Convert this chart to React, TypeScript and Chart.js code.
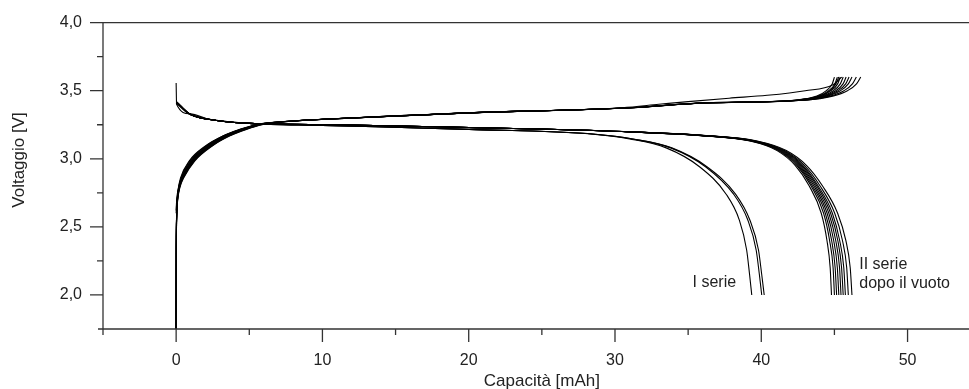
import React, { useEffect, useRef } from 'react';
import { Chart, registerables } from 'chart.js';

Chart.register(...registerables);

const FONT = '"Liberation Sans", Arial, Helvetica, sans-serif';
const INK = '#222';

// Axis ranges
const X_MIN = -5;
const X_MAX = 54.2;
const Y_MIN = 1.75;
const Y_MAX = 4.0;

// Tick positions
const xMajorTicks = [0, 10, 20, 30, 40, 50];
const xMinorTicks = [-5, 5, 15, 25, 35, 45];
const yMajorTicks = [2.0, 2.5, 3.0, 3.5, 4.0];
const yMinorTicks = [2.25, 2.75, 3.25, 3.75];

// ---- Discharge, II serie (after vacuum): shared voltage nodes [V], capacity per cycle [mAh]
const dischargeVoltsII = [3.42, 3.33, 3.29, 3.26, 3.25, 3.23, 3.2, 3.17, 3.13, 3.06, 2.95, 2.8, 2.6, 2.4, 2.2, 2.0];
const dischargeII_1 = [0, 0.9, 2.2, 5.0, 10.99, 19.98, 30.43, 35.88, 39.23, 41.08, 42.33, 43.28, 44.1, 44.49, 44.71, 44.8];
const dischargeII_2 = [0, 0.9, 2.2, 5.0, 10.99, 19.99, 30.46, 35.93, 39.3, 41.17, 42.44, 43.41, 44.26, 44.67, 44.91, 45.0];
const dischargeII_3 = [0, 0.9, 2.2, 5.0, 11.0, 19.99, 30.48, 35.96, 39.35, 41.23, 42.52, 43.5, 44.38, 44.81, 45.05, 45.15];
const dischargeII_4 = [0, 0.9, 2.2, 5.0, 11.0, 20.0, 30.5, 36.0, 39.4, 41.3, 42.6, 43.6, 44.5, 44.95, 45.2, 45.3];
const dischargeII_5 = [0, 0.9, 2.2, 5.0, 11.0, 20.01, 30.52, 36.04, 39.45, 41.37, 42.68, 43.7, 44.62, 45.09, 45.35, 45.45];
const dischargeII_6 = [0, 0.9, 2.2, 5.0, 11.01, 20.02, 30.55, 36.08, 39.51, 41.44, 42.77, 43.8, 44.74, 45.23, 45.49, 45.6];
const dischargeII_7 = [0, 0.9, 2.2, 5.0, 11.01, 20.02, 30.57, 36.11, 39.56, 41.5, 42.85, 43.89, 44.86, 45.36, 45.64, 45.75];
const dischargeII_8 = [0, 0.9, 2.2, 5.0, 11.01, 20.03, 30.6, 36.16, 39.63, 41.59, 42.96, 44.02, 45.02, 45.55, 45.84, 45.95];
const dischargeII_9 = [0, 0.9, 2.2, 5.0, 11.02, 20.05, 30.64, 36.23, 39.72, 41.71, 43.1, 44.19, 45.22, 45.78, 46.08, 46.2];

// ---- Discharge, I serie
const dischargeVoltsI_1 = [3.556, 3.4, 3.33, 3.29, 3.26, 3.245, 3.216, 3.18, 3.145, 3.08, 2.94, 2.74, 2.55, 2.33, 2.15, 2.0];
const dischargeI_1 = [0, 0.03, 0.95, 2.3, 5.1, 10.0, 20.0, 28.5, 31.0, 33.5, 35.8, 37.6, 38.5, 39.0, 39.2, 39.35];
const dischargeVoltsI = [3.41, 3.33, 3.29, 3.26, 3.245, 3.216, 3.18, 3.145, 3.08, 2.94, 2.74, 2.55, 2.33, 2.15, 2.0];
const dischargeI_2 = [0, 0.85, 2.15, 5.0, 10.0, 20.03, 28.64, 31.2, 33.81, 36.21, 38.11, 39.08, 39.65, 39.87, 40.03];
const dischargeI_3 = [0, 0.95, 2.25, 5.05, 10.0, 20.04, 28.67, 31.26, 33.88, 36.31, 38.24, 39.22, 39.81, 40.03, 40.2];

// ---- Charge, II serie
const chargeVoltsII = [1.75, 2.3, 2.6, 2.69, 2.79, 2.86, 2.985, 3.094, 3.167, 3.216, 3.252, 3.27, 3.29, 3.337, 3.375, 3.41, 3.43, 3.46, 3.5, 3.55, 3.6];
const chargeII_1 = [0, 0.01, 0.03, 0.06, 0.17, 0.36, 1.0, 2.1, 3.2, 4.35, 5.5, 6.9, 9.9, 19.9, 30.9, 36.0, 42.3, 43.8, 44.45, 44.85, 45.0];
const chargeII_2 = [0, 0.01, 0.035, 0.07, 0.18, 0.38, 1.05, 2.17, 3.28, 4.42, 5.57, 6.95, 9.95, 19.95, 30.95, 36.02, 42.37, 43.92, 44.61, 45.03, 45.2];
const chargeII_3 = [0, 0.01, 0.035, 0.07, 0.19, 0.4, 1.08, 2.2, 3.33, 4.47, 5.62, 6.98, 10.0, 20.0, 31.0, 36.04, 42.44, 44.04, 44.77, 45.22, 45.4];
const chargeII_4 = [0, 0.01, 0.035, 0.07, 0.2, 0.41, 1.1, 2.24, 3.38, 4.52, 5.66, 7.0, 10.0, 20.0, 31.0, 36.06, 42.51, 44.16, 44.93, 45.4, 45.6];
const chargeII_5 = [0, 0.01, 0.04, 0.08, 0.21, 0.43, 1.13, 2.28, 3.43, 4.57, 5.71, 7.05, 10.05, 20.05, 31.05, 36.08, 42.58, 44.28, 45.09, 45.59, 45.8];
const chargeII_6 = [0, 0.01, 0.04, 0.08, 0.22, 0.45, 1.16, 2.32, 3.48, 4.62, 5.76, 7.1, 10.1, 20.1, 31.1, 36.1, 42.65, 44.4, 45.25, 45.77, 46.0];
const chargeII_7 = [0, 0.01, 0.045, 0.09, 0.23, 0.47, 1.2, 2.37, 3.53, 4.68, 5.82, 7.15, 10.1, 20.1, 31.1, 36.12, 42.72, 44.52, 45.41, 45.95, 46.2];
const chargeII_8 = [0, 0.01, 0.045, 0.09, 0.24, 0.49, 1.24, 2.42, 3.59, 4.74, 5.88, 7.2, 10.15, 20.15, 31.15, 36.15, 42.83, 44.7, 45.65, 46.23, 46.5];
const chargeII_9 = [0, 0.01, 0.05, 0.1, 0.26, 0.52, 1.28, 2.47, 3.65, 4.8, 5.95, 7.25, 10.2, 20.2, 31.2, 36.18, 42.93, 44.88, 45.89, 46.51, 46.8];

// ---- Charge, I serie
const chargeVoltsI_1 = [2.62, 2.7, 2.79, 2.86, 2.985, 3.094, 3.167, 3.216, 3.252, 3.27, 3.29, 3.337, 3.375, 3.4, 3.42, 3.445, 3.466, 3.5, 3.544, 3.6];
const chargeI_1 = [0, 0.04, 0.16, 0.3, 0.9, 2.0, 3.2, 4.45, 5.6, 7.0, 10.0, 20.0, 30.5, 33.0, 35.0, 37.8, 40.4, 43.0, 44.9, 45.5];
const chargeVoltsI_2 = [2.6, 2.68, 2.78, 2.86, 2.985, 3.094, 3.167, 3.216, 3.252, 3.27, 3.29, 3.337, 3.375, 3.41, 3.43, 3.46, 3.5, 3.55, 3.6];
const chargeI_2 = [0, 0.04, 0.18, 0.34, 0.95, 2.05, 3.25, 4.5, 5.62, 7.0, 10.0, 20.0, 31.0, 36.0, 42.4, 44.0, 44.7, 45.1, 45.3];

const curves: [number[], number[]][] = [
  [dischargeI_1, dischargeVoltsI_1],
  [dischargeI_2, dischargeVoltsI],
  [dischargeI_3, dischargeVoltsI],
  [dischargeII_1, dischargeVoltsII],
  [dischargeII_2, dischargeVoltsII],
  [dischargeII_3, dischargeVoltsII],
  [dischargeII_4, dischargeVoltsII],
  [dischargeII_5, dischargeVoltsII],
  [dischargeII_6, dischargeVoltsII],
  [dischargeII_7, dischargeVoltsII],
  [dischargeII_8, dischargeVoltsII],
  [dischargeII_9, dischargeVoltsII],
  [chargeI_1, chargeVoltsI_1],
  [chargeI_2, chargeVoltsI_2],
  [chargeII_1, chargeVoltsII],
  [chargeII_2, chargeVoltsII],
  [chargeII_3, chargeVoltsII],
  [chargeII_4, chargeVoltsII],
  [chargeII_5, chargeVoltsII],
  [chargeII_6, chargeVoltsII],
  [chargeII_7, chargeVoltsII],
  [chargeII_8, chargeVoltsII],
  [chargeII_9, chargeVoltsII],
];

// Axis frame, outward ticks, axis titles and series labels
const framePlugin = {
  id: 'originFrame',
  afterDraw(chart: any) {
    const { ctx, chartArea: a, scales } = chart;
    const xs = scales.x;
    const ys = scales.y;
    ctx.save();
    ctx.strokeStyle = '#333';
    ctx.lineWidth = 1.3;
    ctx.beginPath();
    // x axis (slightly overshooting to the left), y axis, top border
    ctx.moveTo(a.left - 5, a.bottom);
    ctx.lineTo(a.right, a.bottom);
    ctx.moveTo(a.left, a.top);
    ctx.lineTo(a.left, a.bottom);
    ctx.moveTo(a.left, a.top);
    ctx.lineTo(a.right, a.top);
    for (const v of xMajorTicks) {
      const px = xs.getPixelForValue(v);
      ctx.moveTo(px, a.bottom);
      ctx.lineTo(px, a.bottom + 13);
    }
    for (const v of xMinorTicks) {
      const px = xs.getPixelForValue(v);
      ctx.moveTo(px, a.bottom);
      ctx.lineTo(px, a.bottom + 6);
    }
    for (const v of yMajorTicks) {
      const py = ys.getPixelForValue(v);
      ctx.moveTo(a.left, py);
      ctx.lineTo(a.left - 13, py);
    }
    for (const v of yMinorTicks) {
      const py = ys.getPixelForValue(v);
      ctx.moveTo(a.left, py);
      ctx.lineTo(a.left - 6, py);
    }
    ctx.stroke();

    ctx.fillStyle = INK;
    ctx.textBaseline = 'middle';
    ctx.font = `17px ${FONT}`;
    ctx.textAlign = 'center';
    ctx.fillText('Capacità [mAh]', (a.left + xs.getPixelForValue(55)) / 2, 381);
    ctx.save();
    ctx.translate(19, 160);
    ctx.rotate(-Math.PI / 2);
    ctx.fillText('Voltaggio [V]', 0, 0);
    ctx.restore();

    ctx.font = `16px ${FONT}`;
    ctx.textAlign = 'left';
    ctx.fillText('I serie', xs.getPixelForValue(35.3), ys.getPixelForValue(2.09));
    ctx.fillText('II serie', xs.getPixelForValue(46.7), ys.getPixelForValue(2.225));
    ctx.fillText('dopo il vuoto', xs.getPixelForValue(46.7), ys.getPixelForValue(2.085));
    ctx.restore();
  },
};

export default function App() {
  const canvasRef = useRef<HTMLCanvasElement | null>(null);

  useEffect(() => {
    if (!canvasRef.current) return;
    const datasets = curves.map(([caps, volts]) => ({
      data: caps.map((c, i) => ({ x: c, y: volts[i] })),
      borderColor: '#000',
      borderWidth: 1.1,
      pointRadius: 0,
      showLine: true,
      fill: false,
      cubicInterpolationMode: 'monotone' as const,
    }));

    const chart = new Chart(canvasRef.current, {
      type: 'scatter',
      data: { datasets },
      options: {
        animation: false,
        responsive: false,
        layout: { padding: { top: 11, right: 0, left: 0, bottom: 0 } },
        plugins: { legend: { display: false }, tooltip: { enabled: false } },
        scales: {
          x: {
            type: 'linear',
            min: X_MIN,
            max: X_MAX,
            grid: { display: false },
            border: { display: false },
            ticks: {
              stepSize: 5,
              includeBounds: false,
              maxRotation: 0,
              autoSkip: false,
              padding: 14,
              color: INK,
              font: { family: FONT, size: 16 },
              callback: (v: any) => (Math.round(v) % 10 === 0 ? String(Math.round(v)) : ''),
            },
            afterFit: (s: any) => {
              s.height = 60;
            },
          },
          y: {
            type: 'linear',
            min: Y_MIN,
            max: Y_MAX,
            grid: { display: false },
            border: { display: false },
            ticks: {
              stepSize: 0.25,
              autoSkip: false,
              padding: 13,
              color: INK,
              font: { family: FONT, size: 16 },
              callback: (v: any) => {
                const n = Number(v);
                return Math.abs(n * 2 - Math.round(n * 2)) < 1e-6 ? n.toFixed(1).replace('.', ',') : '';
              },
            },
            afterFit: (s: any) => {
              s.width = 103;
            },
          },
        },
      },
      plugins: [framePlugin],
    });
    return () => chart.destroy();
  }, []);

  return (
    <div style={{ position: 'absolute', left: 0, top: 0, width: 969, height: 389, overflow: 'hidden', background: '#fff' }}>
      <canvas ref={canvasRef} width={969} height={389} />
    </div>
  );
}
